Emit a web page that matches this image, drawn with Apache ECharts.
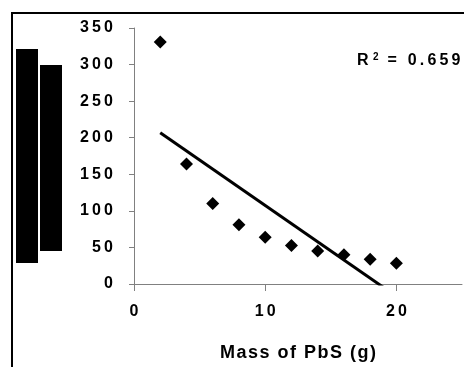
<!DOCTYPE html>
<html>
<head>
<meta charset="utf-8">
<script src="https://cdn.jsdelivr.net/npm/echarts@6/dist/echarts.min.js"></script>
<style>
  html, body { margin: 0; padding: 0; background: #fff; }
  #main { width: 464px; height: 367px; }
</style>
</head>
<body>
<div id="main"></div>
<script>
// data
const mass = [2, 4, 6, 8, 10, 12, 14, 16, 18, 20];
const value = [331, 164, 110, 81, 64, 52.5, 45, 40, 34, 28.5];
const xTicks = [0, 10, 20];
const xTitle = "Mass of PbS (g)";
const r2Text = "0.6591";

// spread letters like the old excel rendering
const spread = (s, gap) => String(s).split("").join(gap || "\u2009");

// least squares trend line
const n = mass.length;
const mx = mass.reduce((a, b) => a + b, 0) / n;
const my = value.reduce((a, b) => a + b, 0) / n;
let sxy = 0, sxx = 0;
mass.forEach((x, i) => {
  sxy += (x - mx) * (value[i] - my);
  sxx += (x - mx) * (x - mx);
});
const slope = sxy / sxx;
const icpt = my - slope * mx;
const trend = [mass[0], mass[n - 1]].map((x) => [x, icpt + slope * x]);

const font = "'Liberation Sans', Arial, sans-serif";
const chart = echarts.init(document.getElementById("main"));

chart.setOption({
  animation: false,
  backgroundColor: "#fff",
  grid: { left: 134, top: 28, right: 2, bottom: 81 },
  xAxis: {
    type: "value",
    min: 0,
    max: 25,
    interval: 10,
    name: spread(xTitle, "\u200A"),
    nameLocation: "middle",
    nameGap: 60,
    nameTextStyle: { fontFamily: font, fontWeight: "bold", fontSize: 18, color: "#000" },
    splitLine: { show: false },
    axisLine: { lineStyle: { color: "#808080", width: 1 } },
    axisTick: { customValues: xTicks, length: 7, lineStyle: { color: "#808080" } },
    axisLabel: {
      customValues: xTicks,
      margin: 20,
      fontFamily: font,
      fontWeight: "bold",
      fontSize: 16,
      color: "#000",
      formatter: (v) => spread(v),
    },
  },
  yAxis: {
    type: "value",
    min: 0,
    max: 350,
    interval: 50,
    splitLine: { show: false },
    axisLine: { show: true, lineStyle: { color: "#808080", width: 1 } },
    axisTick: { show: true, length: 5, lineStyle: { color: "#808080" } },
    axisLabel: {
      margin: 21,
      fontFamily: font,
      fontWeight: "bold",
      fontSize: 16,
      color: "#000",
      formatter: (v) => spread(v),
    },
  },
  series: [
    {
      type: "scatter",
      data: mass.map((x, i) => [x, value[i]]),
      symbol: "diamond",
      symbolSize: 13,
      itemStyle: { color: "#000", opacity: 1 },
    },
    {
      type: "line",
      data: trend,
      showSymbol: false,
      clip: true,
      lineStyle: { color: "#000", width: 3 },
    },
  ],
  graphic: [
    // outer chart frame
    { type: "rect", shape: { x: 12, y: 13, width: 500, height: 400 }, style: { fill: "none", stroke: "#000", lineWidth: 2 } },
    // blacked out axis title
    { type: "rect", shape: { x: 16, y: 49, width: 22, height: 214 }, style: { fill: "#000" } },
    { type: "rect", shape: { x: 40, y: 65, width: 22, height: 186 }, style: { fill: "#000" } },
    {
      type: "text",
      left: 357,
      top: 52,
      style: {
        text: "{r|R }{s|2}{r|  " + spread("= " + r2Text) + "}",
        rich: {
          r: { fontFamily: font, fontWeight: "bold", fontSize: 16, fill: "#000" },
          s: { fontFamily: font, fontWeight: "bold", fontSize: 10, fill: "#000", verticalAlign: "top", padding: [0, 0, 7, 0] },
        },
      },
    },
  ],
});
</script>
</body>
</html>
